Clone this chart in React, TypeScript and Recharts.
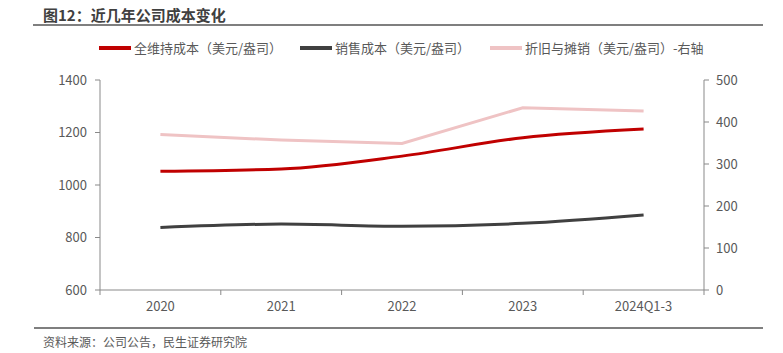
import React from "react";
import { LineChart, Line, XAxis, YAxis } from "recharts";

const categories = ["2020", "2021", "2022", "2023", "2024Q1-3"];
const aisc = [1052, 1061, 1110, 1180, 1213];
const salesCost = [838, 851, 843, 854, 886];
const depreciation = [370, 357, 349, 434, 426];

const leftTicks = [600, 800, 1000, 1200, 1400];
const rightTicks = [0, 100, 200, 300, 400, 500];

const data = categories.map((c, i) => ({
  name: c,
  aisc: aisc[i],
  sales: salesCost[i],
  dep: depreciation[i],
}));

const FONT = '"Microsoft YaHei", "Noto Sans CJK SC", sans-serif';
const AXIS = "#898989";
const TXT = "#595959";

const legend = [
  { label: "全维持成本（美元/盎司）", color: "#C00000", left: 99 },
  { label: "销售成本（美元/盎司）", color: "#404040", left: 300 },
  { label: "折旧与摊销（美元/盎司）-右轴", color: "#EFC3C4", left: 490 },
];

// category label at centre, tick marks at band edges
const XTick = (props: any) => {
  const { x, y, payload, index, width, visibleTicksCount } = props;
  const n = visibleTicksCount || categories.length;
  const half = (width || 604) / n / 2;
  return (
    <g>
      <line x1={x - half} x2={x - half} y1={y - 8} y2={y - 3} stroke={AXIS} />
      {index === n - 1 && (
        <line x1={x + half} x2={x + half} y1={y - 8} y2={y - 3} stroke={AXIS} />
      )}
      <text x={x} y={y + 13} textAnchor="middle" fill={TXT} fontSize={13} fontFamily={FONT}>
        {payload.value}
      </text>
    </g>
  );
};

export default function App() {
  return (
    <div style={{ position: "absolute", left: 0, top: 0, width: 783, height: 353, background: "#fff", fontFamily: FONT }}>
      <div style={{ position: "absolute", left: 43, top: 4, fontSize: 15, fontWeight: 700, color: "#404040" }}>
        图12：近几年公司成本变化
      </div>
      <div style={{ position: "absolute", left: 33, top: 24, width: 730, height: 2, background: "#7f7f7f" }} />

      {legend.map((l) => (
        <div key={l.label} style={{ position: "absolute", left: l.left, top: 38, display: "flex", alignItems: "center", fontSize: 13, color: TXT }}>
          <span style={{ display: "inline-block", width: 32, height: 4, background: l.color, marginRight: 3 }} />
          {l.label}
        </div>
      ))}

      <div style={{ position: "absolute", left: 0, top: 0 }}>
        <LineChart width={783} height={320} data={data} margin={{ top: 80, right: 19, left: 40, bottom: 0 }}>
          <XAxis
            dataKey="name"
            scale="band"
            height={30}
            stroke={AXIS}
            tickLine={false}
            tick={<XTick />}
            interval={0}
          />
          <YAxis
            yAxisId="left"
            width={60}
            domain={[600, 1400]}
            ticks={leftTicks}
            stroke={AXIS}
            tickSize={5}
            tick={{ fill: TXT, fontSize: 13, fontFamily: FONT, dx: -6 }}
          />
          <YAxis
            yAxisId="right"
            orientation="right"
            width={60}
            domain={[0, 500]}
            ticks={rightTicks}
            stroke={AXIS}
            tickSize={5}
            tick={{ fill: TXT, fontSize: 13, fontFamily: FONT, dx: 5 }}
          />
          <Line yAxisId="right" dataKey="dep" type="linear" stroke="#EFC3C4" strokeWidth={3} dot={false} isAnimationActive={false} />
          <Line yAxisId="left" dataKey="sales" type="monotone" stroke="#404040" strokeWidth={3} dot={false} isAnimationActive={false} />
          <Line yAxisId="left" dataKey="aisc" type="monotone" stroke="#C00000" strokeWidth={3} dot={false} isAnimationActive={false} />
        </LineChart>
      </div>

      <div style={{ position: "absolute", left: 34, top: 327, width: 729, height: 2, background: "#7f7f7f" }} />
      <div style={{ position: "absolute", left: 43, top: 333, fontSize: 12, color: TXT }}>
        资料来源：公司公告，民生证券研究院
      </div>
    </div>
  );
}
